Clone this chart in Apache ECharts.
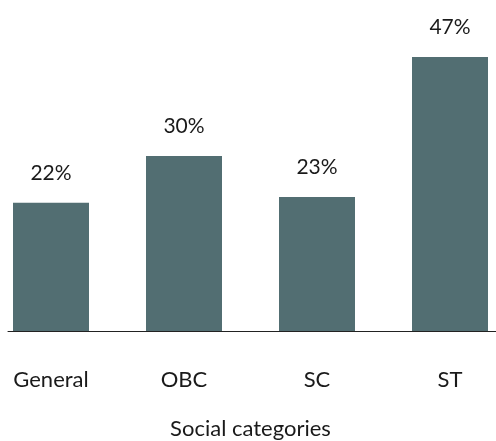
<!DOCTYPE html>
<html>
<head>
<meta charset="utf-8">
<script src="https://cdn.jsdelivr.net/npm/echarts@6/dist/echarts.min.js"></script>
<style>
  html, body { margin: 0; padding: 0; background: #fff; }
  #chart { width: 496px; height: 441px; }
</style>
</head>
<body>
<div id="chart"></div>
<script>
// Share of each social category (percent)
const categories = ['General', 'OBC', 'SC', 'ST'];
const shares = [22, 30, 23, 47];
const axisTitle = 'Social categories';

const FONT = 'Lato';
const chart = echarts.init(document.getElementById('chart'), null, { renderer: 'canvas' });

chart.setOption({
  animation: false,
  textStyle: { fontFamily: FONT },
  grid: [
    // bars grid: wide bands so bars sit where the categories are centred
    { left: -15.5, width: 532, top: 39.5, bottom: 110, containLabel: false, outerBoundsMode: 'none' },
    // baseline grid: carries only the visible axis line
    { left: 8, right: 0, top: 39.5, bottom: 110, containLabel: false, outerBoundsMode: 'none' }
  ],
  xAxis: [
    {
      type: 'category',
      gridIndex: 0,
      data: categories,
      axisLine: { show: false },
      axisTick: { show: false },
      axisLabel: { color: '#1a1a1a', fontSize: 22, margin: 38, fontFamily: FONT },
      name: axisTitle,
      nameLocation: 'middle',
      nameGap: 87,
      nameTextStyle: { color: '#1a1a1a', fontSize: 22, fontFamily: FONT, verticalAlign: 'top' }
    },
    {
      type: 'value',
      gridIndex: 1,
      min: 0,
      max: 1,
      axisLine: { show: true, lineStyle: { color: '#222', width: 1 } },
      axisTick: { show: false },
      axisLabel: { show: false },
      splitLine: { show: false }
    }
  ],
  yAxis: [
    { type: 'value', gridIndex: 0, min: 0, max: 50, show: false },
    { type: 'value', gridIndex: 1, min: 0, max: 50, show: false }
  ],
  series: [
    {
      type: 'bar',
      xAxisIndex: 0,
      yAxisIndex: 0,
      data: shares,
      barWidth: 76,
      itemStyle: { color: '#526e72' },
      label: {
        show: true,
        position: 'top',
        distance: 19,
        formatter: p => p.value + '%',
        color: '#1a1a1a',
        fontSize: 21,
        fontFamily: FONT
      }
    }
  ]
});
</script>
</body>
</html>
